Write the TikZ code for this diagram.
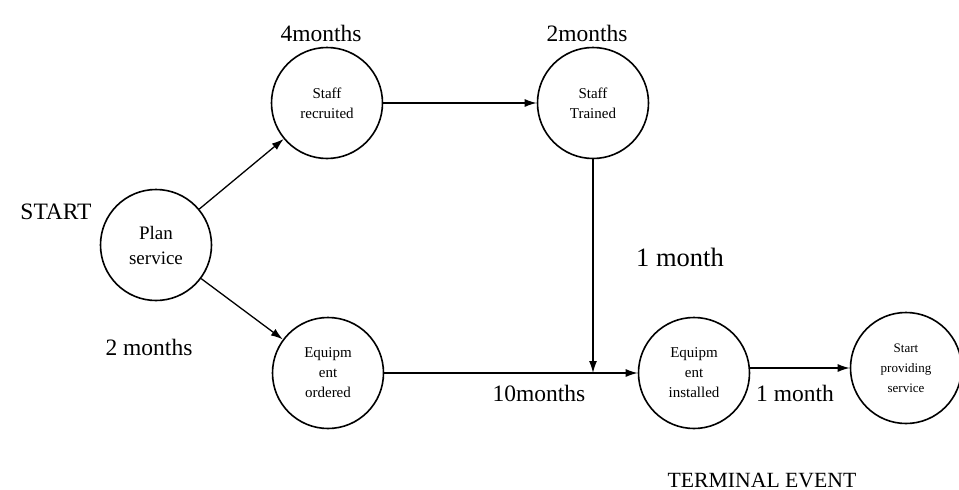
\documentclass[tikz,border=0pt]{standalone}
\usepackage{fontspec}
\setmainfont{Liberation Serif}
\usetikzlibrary{arrows.meta}
\usetikzlibrary{positioning}

\begin{document}
\begin{tikzpicture}[x=1pt,y=-1pt,
  event/.style={draw,circle,line width=1.6pt,minimum size=111pt,inner sep=0pt,align=center,font=\fontsize{15}{20}\selectfont},
  dur/.style={inner sep=0pt,font=\fontsize{23.5}{28}\selectfont},
  link/.style={line width=1.3pt,-{Latex[length=12pt,width=8pt]}}]
  \useasboundingbox (0,0) rectangle (959,490);

  %events
  \node[event,font=\fontsize{19}{25}\selectfont] (plan) at (156,245) {Plan\\service};
  \node[event] (recruit) at (327,103) {Staff\\recruited};
  \node[event] (train) at (593,103) {Staff\\Trained};
  \node[event] (order) at (328,373) {Equipm\\ent\\ordered};
  \node[event] (install) at (694,373) {Equipm\\ent\\installed};
  \node[event,font=\fontsize{13}{20}\selectfont] (provide) at (906,368) {Start\\providing\\service};

  %labels
  \node[dur] (start) at (56,212) {START};
  \node[dur] (d4) at (321,33) {4months};
  \node[dur] (d2a) at (587,33) {2months};
  \node[dur,font=\fontsize{26.5}{30}\selectfont] (d1a) at (680,257) {1 month};
  \node[dur] (d2b) at (149,347) {2 months};
  \node[dur] (d10) at (539,393) {10months};
  \node[dur] (d1b) at (795,393) {1 month};
  \node[dur,font=\fontsize{21.7}{26}\selectfont] (term) at (762,480) {TERMINAL EVENT};

  %arrows
  \draw[link] (plan) -- (recruit);
  \draw[link] (plan) -- (order);
  \draw[link] (recruit) -- (train);
  \draw[link] (order) -- (install);
  \draw[link] (install.east |- provide) -- (provide);
  \draw[link] (train.south) -- (train.south |- order.east);
\end{tikzpicture}
\end{document}
